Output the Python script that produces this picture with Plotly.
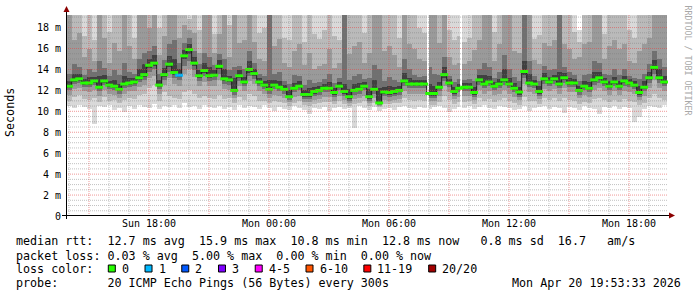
import plotly.graph_objects as go
import pandas as pd

# ---------------- data ----------------
start_time = "2026-04-19 14:00:30"
n_steps = 120
times = pd.date_range(start_time, periods=n_steps, freq="15min")

median = [12.4, 13.0, 13.1, 12.7, 12.7, 12.9, 12.3, 12.9, 12.5, 12.4,
          12.1, 12.6, 12.7, 12.8, 13.2, 13.5, 14.4, 14.6, 12.5, 13.5,
          14.5, 13.7, 13.45, 15.3, 15.9, 14.6, 13.4, 13.9, 13.4, 13.45,
          14.3, 13.1, 13.0, 12.0, 13.4, 12.8, 14.0, 13.6, 12.8, 12.5,
          12.1, 12.5, 12.3, 12.1, 11.4, 12.2, 12.4, 11.6, 11.6, 11.9,
          12.0, 12.2, 12.2, 11.8, 12.4, 11.9, 11.4, 12.0, 12.1, 12.4,
          11.4, 12.1, 10.8, 11.85, 11.8, 11.9, 12.0, 12.9, 12.6, 12.6,
          12.6, 12.6, 11.7, 11.7, 12.3, 13.5, 12.7, 11.9, 12.2, 12.3,
          12.3, 11.8, 13.0, 12.6, 12.8, 12.4, 12.6, 13.0, 12.6, 12.2,
          11.85, 13.8, 12.7, 12.6, 11.9, 13.1, 12.8, 13.1, 12.6, 13.2,
          12.7, 12.7, 12.0, 12.4, 12.2, 13.0, 13.2, 12.8, 12.4, 12.8,
          12.4, 12.9, 12.7, 12.5, 11.8, 12.3, 13.2, 14.2, 13.2, 12.8]

loss = [0, 0, 0, 0, 0, 0, 0, 0, 0, 0,
        0, 0, 0, 0, 0, 0, 0, 0, 0, 0,
        0, 0, 1, 0, 0, 0, 0, 0, 0, 0,
        0, 0, 0, 0, 0, 0, 0, 0, 0, 0,
        0, 0, 0, 0, 0, 0, 0, 0, 0, 0,
        0, 0, 0, 0, 0, 0, 0, 0, 0, 0,
        0, 0, 0, 0, 0, 0, 0, 0, 0, 0,
        0, 0, 0, 0, 0, 0, 0, 0, 0, 0,
        0, 0, 0, 0, 0, 0, 0, 0, 0, 0,
        0, 0, 0, 0, 0, 0, 0, 0, 0, 0,
        0, 0, 0, 0, 0, 0, 0, 0, 0, 0,
        0, 0, 0, 0, 0, 0, 0, 0, 0, 0]

# sorted-ping quantiles (ms) per step
p01 = [10.5, 10.3, 10.6, 10.4, 10.2, 8.8, 10.5, 10.4, 10.6, 10.1,
       10.3, 9.9, 10.5, 10.2, 10.6, 10.4, 10.3, 10.7, 10.2, 10.5,
       10.4, 10.6, 10.3, 10.8, 10.4, 10.5, 10.2, 10.6, 10.4, 10.3,
       10.5, 10.2, 10.4, 10.1, 10.6, 10.3, 10.5, 10.4, 10.2, 10.6,
       10.3, 10.0, 10.4, 10.2, 10.1, 10.5, 10.3, 10.1, 9.7, 10.3,
       10.2, 10.4, 10.0, 10.3, 10.4, 10.2, 10.3, 8.4, 10.5, 10.3,
       10.1, 10.4, 10.0, 10.2, 10.3, 10.1, 10.4, 10.5, 10.3, 10.2,
       10.4, 10.3, 10.2, 10.4, 10.5, 10.3, 9.9, 10.2, 10.4, 10.3,
       10.5, 10.2, 10.4, 10.6, 10.3, 10.2, 10.5, 10.4, 10.3, 10.1,
       10.2, 10.5, 10.0, 10.3, 10.4, 10.5, 10.2, 10.4, 10.3, 9.85,
       10.4, 10.3, 10.1, 10.5, 10.3, 10.2, 9.7, 10.4, 10.3, 10.5,
       10.2, 10.4, 10.3, 9.0, 9.5, 10.2, 10.5, 10.4, 10.3, 10.6]

p04 = [11.0, 11.4, 11.6, 11.2, 11.1, 11.3, 10.9, 11.4, 11.0, 11.1,
       10.8, 11.1, 11.3, 11.2, 11.6, 11.7, 12.2, 12.5, 11.0, 11.8,
       11.5, 11.3, 11.2, 11.8, 12.0, 11.7, 11.3, 11.5, 11.3, 11.2,
       11.6, 11.2, 11.3, 10.8, 11.4, 11.1, 11.7, 11.5, 11.0, 11.0,
       10.8, 11.0, 10.9, 10.8, 10.5, 10.8, 11.0, 10.6, 10.5, 10.7,
       10.8, 10.9, 10.9, 10.7, 11.0, 10.7, 10.5, 10.7, 10.8, 11.0,
       10.5, 10.8, 10.4, 10.7, 10.7, 10.8, 10.8, 11.3, 11.1, 11.0,
       11.1, 11.0, 10.6, 10.6, 10.9, 11.5, 11.1, 10.7, 10.9, 10.9,
       11.0, 10.7, 11.3, 11.0, 11.2, 10.9, 11.1, 11.3, 11.0, 10.8,
       10.6, 11.4, 11.0, 11.0, 10.7, 11.3, 11.1, 11.3, 11.0, 11.3,
       11.1, 11.0, 10.7, 10.9, 10.8, 11.2, 11.3, 11.1, 10.9, 11.1,
       10.9, 11.2, 11.0, 10.9, 10.6, 10.8, 11.3, 11.7, 11.3, 11.1]

p06 = [11.6, 12.1, 12.2, 11.9, 11.8, 12.0, 11.5, 12.0, 11.7, 11.6,
       11.3, 11.7, 11.9, 11.9, 12.3, 12.5, 13.2, 13.4, 11.7, 12.5,
       13.2, 12.6, 12.4, 13.6, 14.0, 13.3, 12.4, 12.8, 12.4, 12.4,
       13.0, 12.1, 12.0, 11.3, 12.4, 11.9, 12.9, 12.6, 11.9, 11.7,
       11.3, 11.6, 11.5, 11.3, 10.9, 11.4, 11.5, 10.9, 10.9, 11.1,
       11.2, 11.4, 11.4, 11.0, 11.5, 11.1, 10.8, 11.2, 11.3, 11.5,
       10.8, 11.3, 10.5, 11.1, 11.0, 11.1, 11.2, 11.9, 11.7, 11.7,
       11.7, 11.7, 11.0, 11.0, 11.5, 12.4, 11.8, 11.2, 11.4, 11.5,
       11.5, 11.1, 12.0, 11.7, 11.9, 11.6, 11.7, 12.0, 11.7, 11.4,
       11.1, 12.6, 11.8, 11.7, 11.2, 12.1, 11.9, 12.1, 11.7, 12.2,
       11.8, 11.8, 11.3, 11.6, 11.4, 12.0, 12.2, 11.9, 11.6, 11.9,
       11.6, 11.9, 11.8, 11.7, 11.1, 11.5, 12.2, 13.0, 12.2, 11.9]

p08 = [12.0, 12.6, 12.7, 12.3, 12.3, 12.5, 11.9, 12.5, 12.1, 12.0,
       11.7, 12.2, 12.3, 12.4, 12.8, 13.0, 13.8, 14.0, 12.1, 13.0,
       13.8, 13.2, 13.0, 14.3, 14.8, 13.9, 12.9, 13.4, 12.9, 13.0,
       13.6, 12.6, 12.5, 11.6, 12.9, 12.4, 13.4, 13.1, 12.4, 12.1,
       11.7, 12.1, 11.9, 11.7, 11.1, 11.8, 12.0, 11.2, 11.2, 11.5,
       11.6, 11.8, 11.8, 11.4, 12.0, 11.5, 11.0, 11.6, 11.7, 12.0,
       11.0, 11.7, 10.6, 11.5, 11.4, 11.5, 11.6, 12.4, 12.2, 12.2,
       12.2, 12.2, 11.3, 11.3, 11.9, 12.9, 12.3, 11.5, 11.8, 11.9,
       11.9, 11.4, 12.5, 12.2, 12.4, 12.0, 12.2, 12.5, 12.2, 11.8,
       11.4, 13.2, 12.3, 12.2, 11.5, 12.6, 12.4, 12.6, 12.2, 12.7,
       12.3, 12.3, 11.6, 12.0, 11.8, 12.5, 12.7, 12.4, 12.0, 12.4,
       12.0, 12.4, 12.3, 12.1, 11.4, 11.9, 12.7, 13.6, 12.7, 12.4]

p10 = [12.2, 12.8, 12.9, 12.5, 12.5, 12.7, 12.1, 12.7, 12.3, 12.2,
       11.9, 12.4, 12.5, 12.6, 13.0, 13.3, 14.1, 14.3, 12.3, 13.3,
       14.2, 13.5, 13.25, 15.0, 15.5, 14.3, 13.2, 13.7, 13.2, 13.25,
       14.0, 12.9, 12.8, 11.8, 13.2, 12.6, 13.7, 13.4, 12.6, 12.3,
       11.9, 12.3, 12.1, 11.9, 11.25, 12.0, 12.2, 11.4, 11.4, 11.7,
       11.8, 12.0, 12.0, 11.6, 12.2, 11.7, 11.2, 11.8, 11.9, 12.2,
       11.2, 11.9, 10.7, 11.65, 11.6, 11.7, 11.8, 12.7, 12.4, 12.4,
       12.4, 12.4, 11.5, 11.5, 12.1, 13.2, 12.5, 11.7, 12.0, 12.1,
       12.1, 11.6, 12.8, 12.4, 12.6, 12.2, 12.4, 12.8, 12.4, 12.0,
       11.6, 13.5, 12.5, 12.4, 11.7, 12.9, 12.6, 12.9, 12.4, 13.0,
       12.5, 12.5, 11.8, 12.2, 12.0, 12.8, 13.0, 12.6, 12.2, 12.6,
       12.2, 12.7, 12.5, 12.3, 11.6, 12.1, 13.0, 13.9, 13.0, 12.6]

p12 = [12.9, 13.6, 13.6, 13.1, 13.3, 13.3, 13.4, 13.5, 12.9, 13.0,
       12.6, 13.4, 13.2, 13.2, 14.0, 14.5, 15.0, 15.4, 13.0, 14.1,
       15.3, 15.0, 14.0, 15.9, 16.4, 15.2, 13.9, 14.6, 14.2, 13.9,
       14.9, 14.0, 13.4, 13.2, 13.9, 13.3, 14.8, 14.0, 13.2, 12.9,
       13.0, 13.0, 12.9, 12.5, 12.0, 12.7, 12.9, 12.0, 12.2, 12.3,
       12.4, 12.6, 12.8, 12.2, 12.8, 12.6, 12.1, 12.6, 12.7, 12.8,
       12.1, 13.0, 12.2, 12.3, 12.4, 12.3, 12.4, 13.7, 13.2, 13.0,
       13.0, 13.0, 12.6, 12.4, 12.8, 14.2, 13.1, 12.3, 12.6, 12.7,
       12.7, 12.3, 13.5, 13.5, 13.4, 12.8, 13.1, 14.0, 13.2, 12.7,
       12.3, 14.8, 13.6, 13.0, 12.4, 13.7, 13.3, 13.5, 13.8, 13.7,
       13.2, 13.1, 12.4, 12.9, 12.8, 13.8, 13.8, 13.2, 12.9, 13.3,
       12.9, 13.4, 13.1, 12.9, 12.4, 12.9, 13.8, 14.9, 14.0, 13.4]

p13 = [13.6, 14.5, 14.2, 13.5, 14.0, 13.8, 14.8, 14.1, 13.4, 13.9,
       13.5, 14.6, 13.8, 13.6, 15.0, 15.6, 15.8, 16.2, 13.6, 14.9,
       16.4, 16.8, 14.6, 16.5, 17.0, 15.8, 14.5, 15.6, 15.2, 14.4,
       15.5, 15.0, 13.9, 14.2, 14.3, 14.0, 15.8, 14.6, 13.6, 13.4,
       22.0, 13.6, 13.8, 12.9, 12.6, 13.5, 13.4, 12.5, 13.0, 12.7,
       12.8, 13.1, 13.6, 12.7, 13.2, 22.0, 13.0, 13.4, 13.6, 13.1,
       13.2, 14.4, 14.0, 12.9, 13.3, 13.0, 12.8, 15.0, 14.0, 13.5,
       13.3, 13.4, 14.2, 13.6, 13.5, 15.2, 13.4, 12.8, 13.1, 13.0,
       13.1, 12.9, 14.0, 14.6, 14.2, 13.2, 13.8, 15.4, 14.0, 13.3,
       12.9, 22.0, 14.8, 13.4, 12.9, 14.3, 13.9, 14.0, 22.0, 14.2,
       13.8, 13.5, 12.9, 13.5, 13.6, 14.8, 14.6, 13.6, 13.5, 14.0,
       13.5, 14.0, 13.4, 13.2, 13.1, 13.6, 14.5, 15.8, 15.0, 14.2]

p15 = [24, 16.8, 17.5, 15.2, 16.0, 14.8, 23, 17.0, 14.6, 16.5,
       15.8, 25, 16.2, 15.0, 22, 24, 18.0, 23, 15.4, 17.2,
       25, 23, 17.0, 18.2, 17.8, 17.5, 15.6, 22, 24, 15.6,
       17.4, 23, 15.2, 21, 16.5, 16.8, 24, 16.6, 15.0, 14.8,
       26, 16.2, 16.9, 14.6, 14.2, 15.8, 16.4, 14.4, 15.6, 14.0,
       14.3, 14.5, 16.0, 14.1, 14.6, 26, 15.5, 16.2, 16.6, 14.6,
       15.6, 22, 21, 15.8, 16.2, 15.4, 14.2, 23, 16.4, 16.0,
       15.0, 14.8, 22, 21, 16.5, 24, 15.2, 14.4, 14.6, 14.5,
       14.8, 15.9, 16.8, 22, 23, 14.8, 16.4, 25, 22, 15.8,
       15.6, 26, 23, 14.9, 14.5, 16.5, 16.2, 16.8, 27, 16.4,
       16.0, 15.0, 15.2, 16.4, 16.6, 22, 24, 15.0, 16.2, 16.8,
       16.0, 16.4, 14.8, 14.6, 15.8, 16.4, 17.0, 23, 22, 21]

p17 = [26, 22, 24, 17.2, 23, 16.8, 27, 22, 17.6, 25,
       21, 28, 24, 17.0, 26, 27, 23, 26, 18.0, 22,
       28, 26, 23, 25, 18.8, 24, 17.8, 25, 27, 17.4,
       24, 26, 18.2, 24, 22, 23, 27, 22, 17.5, 18.0,
       28, 23, 22, 17.0, 16.8, 21, 23, 16.6, 22, 17.4,
       16.9, 17.8, 22, 17.2, 16.8, 28, 22, 23, 21, 17.5,
       22, 25, 24, 22, 23, 21, 17.0, 26, 23, 22,
       18.0, 17.5, 25, 24, 22, 27, 17.8, 16.8, 17.2, 16.6,
       17.0, 22, 24, 25, 26, 17.6, 22, 27, 25, 23,
       22, 29, 26, 16.9, 17.3, 22, 23, 24, 29, 22,
       23, 17.6, 16.6, 22, 23, 25, 26, 17.4, 22, 23,
       22, 24, 17.8, 17.0, 22, 23, 22, 26, 25, 24]

p20 = [30, 28, 32, 26, 29, 25, 33, 27, 24, 30,
       28, 34, 27, 25, 31, 30, 29, 33, 26, 28,
       35, 31, 28, 32, 27, 29, 25, 30, 33, 26,
       29, 31, 27, 30, 28, 29, 33, 28, 25, 26,
       34, 29, 28, 24, 25, 28, 30, 24, 29, 26,
       25, 27, 28, 26, 25, 33, 28, 30, 27, 26,
       28, 31, 30, 27, 29, 28, 25, 32, 29, 28,
       26, 25, 30, 31, 28, 33, 26, 25, 24, 26,
       25, 28, 30, 31, 32, 26, 29, 33, 30, 28,
       27, 34, 31, 25, 26, 28, 29, 30, 35, 28,
       29, 26, 17.8, 28, 29, 31, 32, 25, 28, 29,
       28, 30, 26, 25, 28, 29, 28, 32, 30, 29]

gap_times = ["2026-04-20 07:57:00", "2026-04-20 09:35:00"]

x_tick_times = ["2026-04-19 18:00", "2026-04-20 00:00", "2026-04-20 06:00",
                "2026-04-20 12:00", "2026-04-20 18:00"]
x_tick_labels = ["Sun 18:00", "Mon 00:00", "Mon 06:00", "Mon 12:00", "Mon 18:00"]
y_tick_values = [0, 2, 4, 6, 8, 10, 12, 14, 16, 18]
y_tick_labels = ["0", "2 m", "4 m", "6 m", "8 m", "10 m", "12 m", "14 m", "16 m", "18 m"]

loss_labels = ["0", "1", "2", "3", "4-5", "6-10", "11-19", "20/20"]
loss_colors = ["#26ff00", "#00b8ff", "#0059ff", "#7e00ff", "#ff00ff", "#ff5500", "#ff0000", "#a10000"]

line_rtt = "median rtt:  12.7 ms avg  15.9 ms max  10.8 ms min  12.8 ms now   0.8 ms sd  16.7   am/s"
line_loss = "packet loss: 0.03 % avg  5.00 % max  0.00 % min  0.00 % now"
line_color = "loss color:"
line_probe = "probe:       20 ICMP Echo Pings (56 Bytes) every 300s"
stamp = "Mon Apr 20 19:53:33 2026"
y_title = "Seconds"
watermark = "RRDTOOL / TOBI OETIKER"

# ---------------- geometry helpers ----------------
W, H = 697, 297
ML, MR, MT, MB = 66, 29, 15, 81
PW, PH = W - ML - MR, H - MT - MB
X_RANGE = ["2026-04-19 13:51:00", "2026-04-20 19:57:00"]
Y_MAX = 19.2


def px(x):
    return (x - ML) / PW


def py(y):
    return (H - MB - y) / PH


MONO = "DejaVu Sans Mono"
STEP_MS = 15 * 60 * 1000

fig = go.Figure()

# smoke layers (outer -> inner)
for lo, hi, col in [(p01, p20, "#d9d9d9"), (p04, p17, "#bababa"),
                    (p06, p15, "#9a9a9a"), (p08, p13, "#707070"),
                    (p10, p12, "#404040")]:
    fig.add_trace(go.Bar(x=times, base=lo, y=[h - l for l, h in zip(lo, hi)],
                         width=STEP_MS, marker=dict(color=col, line=dict(width=0)),
                         hoverinfo="skip", showlegend=False))

# missing samples
fig.add_trace(go.Bar(x=pd.to_datetime(gap_times), base=[0] * len(gap_times),
                     y=[Y_MAX] * len(gap_times), width=2.6 * 60 * 1000,
                     marker=dict(color="white", line=dict(width=0)),
                     hoverinfo="skip", showlegend=False))

# median line
fig.add_trace(go.Scatter(x=times, y=median, mode="lines",
                         line=dict(color="#202020", width=1, shape="hvh"),
                         hoverinfo="skip", showlegend=False))
loss_color_of = {0: loss_colors[0], 1: loss_colors[1], 2: loss_colors[2], 3: loss_colors[3]}
fig.add_trace(go.Scatter(x=times, y=median, mode="markers",
                         marker=dict(symbol="line-ew", size=5.6,
                                     line=dict(width=3, color=[loss_color_of[l] for l in loss])),
                         hoverinfo="skip", showlegend=False))

shapes = []
# grid (drawn above smoke like rrdtool)
for t in pd.date_range("2026-04-19 14:00", "2026-04-20 19:00", freq="h"):
    major = t.hour % 3 == 0
    shapes.append(dict(type="line", xref="x", yref="paper", x0=t, x1=t, y0=0, y1=1,
                       layer="above",
                       line=dict(color="rgba(225,70,70,0.55)" if major else "rgba(120,120,120,0.45)",
                                 width=1, dash="1px,1px")))
v = 0.5
while v < Y_MAX:
    major = abs(v / 2 - round(v / 2)) < 1e-6
    shapes.append(dict(type="line", xref="paper", yref="y", x0=0, x1=1, y0=v, y1=v,
                       layer="above",
                       line=dict(color="rgba(225,70,70,0.55)" if major else "rgba(120,120,120,0.45)",
                                 width=1, dash="1px,1px")))
    v += 0.5

# axes + arrows
shapes.append(dict(type="line", xref="paper", yref="paper", x0=px(62), x1=px(669),
                   y0=py(215.5), y1=py(215.5), layer="above", line=dict(color="black", width=1)))
shapes.append(dict(type="line", xref="paper", yref="paper", x0=px(66.5), x1=px(66.5),
                   y0=py(219), y1=py(11), layer="above", line=dict(color="black", width=1)))
shapes.append(dict(type="path", xref="paper", yref="paper", layer="above",
                   path=f"M {px(63.5)} {py(12)} L {px(69.5)} {py(12)} L {px(66.5)} {py(6)} Z",
                   fillcolor="#8b0000", line=dict(width=0)))
shapes.append(dict(type="path", xref="paper", yref="paper", layer="above",
                   path=f"M {px(669)} {py(212.5)} L {px(669)} {py(218.5)} L {px(675)} {py(215.5)} Z",
                   fillcolor="#8b0000", line=dict(width=0)))

# loss colour legend boxes
annotations = []
CH = 7.03
bx = 108.3
for lab, col in zip(loss_labels, loss_colors):
    shapes.append(dict(type="rect", xref="paper", yref="paper",
                       x0=px(bx), x1=px(bx + 7), y0=py(272), y1=py(265),
                       fillcolor=col, line=dict(color="black", width=1)))
    annotations.append(dict(x=px(bx + 13.5), y=py(268.5), xref="paper", yref="paper",
                            text=lab, showarrow=False, xanchor="left", yanchor="middle",
                            borderpad=0, borderwidth=0,
                            font=dict(family=MONO, size=11.7, color="black")))
    bx += 29.7 + CH * len(lab)


def add_text(txt, x, y, anchor="left", size=11.7, color="black", angle=0, yanchor="middle"):
    annotations.append(dict(x=px(x), y=py(y), xref="paper", yref="paper",
                            text=txt.replace(" ", "\u00a0"), showarrow=False,
                            xanchor=anchor, yanchor=yanchor, textangle=angle,
                            borderpad=0, borderwidth=0,
                            font=dict(family=MONO, size=size, color=color)))


add_text(line_rtt, 16, 241)
add_text(line_loss, 16, 255.5)
add_text(line_color, 16, 268.5)
add_text(line_probe, 16, 283.3)
add_text(stamp, 681, 283.3, anchor="right")
add_text(y_title, 10, 113, anchor="center", angle=-90)
add_text(watermark, 687.5, 60, anchor="center", size=8.3, color="#a8a8a8", angle=90)

fig.update_layout(
    width=W, height=H, margin=dict(l=ML, r=MR, t=MT, b=MB),
    paper_bgcolor="white", plot_bgcolor="white", barmode="overlay", bargap=0,
    showlegend=False, shapes=shapes, annotations=annotations,
    xaxis=dict(type="date", range=X_RANGE, showgrid=False, zeroline=False, showline=False,
               tickvals=pd.to_datetime(x_tick_times), ticktext=x_tick_labels, ticks="",
               tickfont=dict(family=MONO, size=10, color="black"), fixedrange=True),
    yaxis=dict(range=[0, Y_MAX], showgrid=False, zeroline=False, showline=False,
               tickvals=y_tick_values, ticktext=y_tick_labels, ticks="",
               ticklabelstandoff=4,
               tickfont=dict(family=MONO, size=10, color="black"), fixedrange=True),
)

fig.write_html("out.html")
